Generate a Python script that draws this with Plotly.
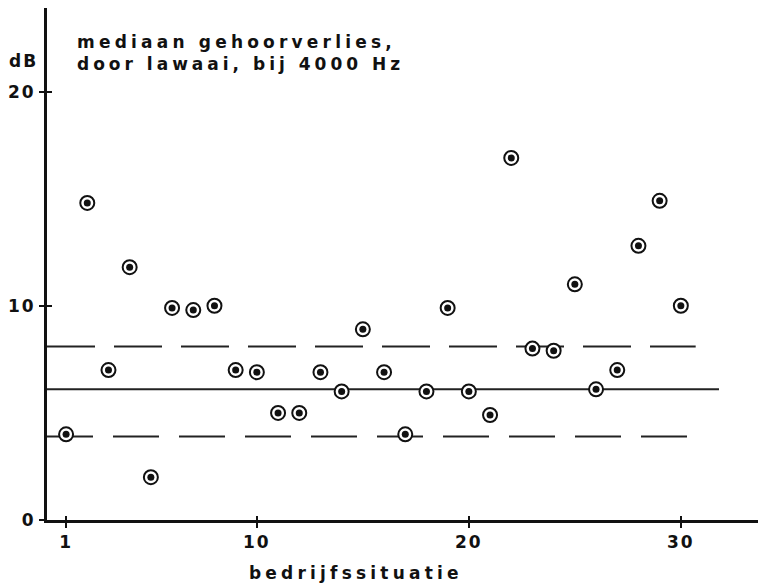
import plotly.graph_objects as go

# bedrijfssituatie nummers en mediaan gehoorverlies (dB) bij 4000 Hz
situatie = [1, 2, 3, 4, 5, 6, 7, 8, 9, 10,
            11, 12, 13, 14, 15, 16, 17, 18, 19, 20,
            21, 22, 23, 24, 25, 26, 27, 28, 29, 30]
verlies = [4.0, 14.8, 7.0, 11.8, 2.0, 9.9, 9.8, 10.0, 7.0, 6.9,
           5.0, 5.0, 6.9, 6.0, 8.9, 6.9, 4.0, 6.0, 9.9, 6.0,
           4.9, 16.9, 8.0, 7.9, 11.0, 6.1, 7.0, 12.8, 14.9, 10.0]

# horizontale lijnen: niveau en eindpunt op de x-as
lijn_niveau = [8.1, 6.1, 3.9]
lijn_eind = [30.7, 31.8, 30.7]
lijn_stijl = ["48px,19px", "solid", "46px,20px"]

x_ticks = [1, 10, 20, 30]
y_ticks = [0, 10, 20]

x_min, x_max = 0.1, 33.64
y_min, y_max = 0, 23.9

FONT = "DejaVu Sans"
INK = "#111111"


def spaced(s, sp):
    return '<span style="letter-spacing:%spx">%s</span>' % (sp, s)


traces = []
for niveau, eind, stijl in zip(lijn_niveau, lijn_eind, lijn_stijl):
    traces.append(go.Scatter(x=[x_min, eind], y=[niveau, niveau],
                             mode="lines",
                             line=dict(color="#222222", width=2, dash=stijl),
                             hoverinfo="skip", showlegend=False))

# ring met witte vulling
traces.append(go.Scatter(x=situatie, y=verlies, mode="markers",
                         marker=dict(symbol="circle", size=14, color="white",
                                     line=dict(color=INK, width=2)),
                         hoverinfo="skip", showlegend=False))
# dot in het midden
traces.append(go.Scatter(x=situatie, y=verlies, mode="markers",
                         marker=dict(symbol="circle", size=7, color=INK),
                         text=["situatie %d: %.1f dB" % (s, v) for s, v in zip(situatie, verlies)],
                         hoverinfo="text", showlegend=False))
# onzichtbare trace zodat de overlay-assen (binnenste tickjes) getekend worden
traces.append(go.Scatter(x=[x_min], y=[y_min], xaxis="x2", yaxis="y2",
                         mode="markers", marker=dict(size=1, opacity=0),
                         hoverinfo="skip", showlegend=False))

tickfont = dict(family=FONT, size=17, color=INK, weight="bold")

fig = go.Figure(data=traces)
fig.update_layout(
    width=758, height=584,
    margin=dict(l=47, r=0, t=8, b=64, autoexpand=False),
    paper_bgcolor="white", plot_bgcolor="white",
    xaxis=dict(range=[x_min, x_max], showgrid=False, zeroline=False,
               automargin=False,
               showline=True, linewidth=3, linecolor=INK,
               tickmode="array", tickvals=x_ticks,
               ticktext=[spaced(t, 2) for t in x_ticks],
               ticks="outside", ticklen=5, tickwidth=1.5, tickcolor=INK,
               ticklabelstandoff=0, tickfont=tickfont),
    yaxis=dict(range=[y_min, y_max], showgrid=False, zeroline=False,
               automargin=False,
               showline=True, linewidth=3, linecolor=INK,
               tickmode="array", tickvals=y_ticks,
               ticktext=[spaced(t, 2) for t in y_ticks],
               ticks="outside", ticklen=5, tickwidth=1.5, tickcolor=INK,
               tickfont=tickfont),
    xaxis2=dict(overlaying="x", anchor="y", range=[x_min, x_max],
                automargin=False,
                showgrid=False, zeroline=False, showline=False,
                tickmode="array", tickvals=x_ticks, showticklabels=False,
                ticks="inside", ticklen=4, tickwidth=1.5, tickcolor=INK),
    yaxis2=dict(overlaying="y", anchor="x", range=[y_min, y_max],
                automargin=False,
                showgrid=False, zeroline=False, showline=False,
                tickmode="array", tickvals=[10, 20], showticklabels=False,
                ticks="inside", ticklen=5, tickwidth=1.5, tickcolor=INK),
    annotations=[
        dict(text=spaced("mediaan gehoorverlies,", 4.2) + "<br>" +
                  spaced("door lawaai, bij 4000 Hz", 4.0),
             xref="paper", yref="paper", x=0.040, y=0.912,
             xanchor="left", yanchor="middle", align="left", showarrow=False,
             font=dict(family=FONT, size=17, color=INK, weight="bold")),
        dict(text=spaced("dB", 2), xref="paper", yref="paper",
             x=-0.010, y=0.897, xanchor="right", yanchor="middle",
             showarrow=False,
             font=dict(family=FONT, size=17, color=INK, weight="bold")),
        dict(text=spaced("bedrijfssituatie", 4.2), xref="paper", yref="paper",
             x=0.4346, y=-0.1035, xanchor="center", yanchor="middle",
             showarrow=False,
             font=dict(family=FONT, size=17, color=INK, weight="bold")),
    ],
)

# pagina zonder standaard body-marge, zodat de figuur in de hoek begint
fig.write_html("out.html",
               config={"displayModeBar": False},
               post_script="document.body.style.margin='0';"
                           "document.body.style.overflow='hidden';")
